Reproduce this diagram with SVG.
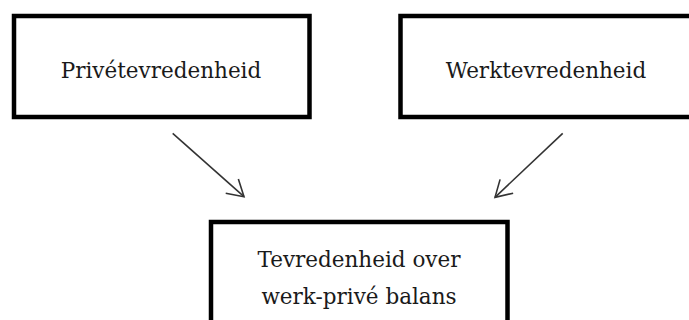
<svg xmlns="http://www.w3.org/2000/svg" width="689" height="320" viewBox="0 0 689 320">
  <style>
    .box { fill: #ffffff; stroke: #000000; stroke-width: 4.5; }
    .label { font-family: "DejaVu Serif", "Liberation Serif", serif; font-size: 21.5px; fill: #1a1a1a; text-anchor: middle; }
    .link { stroke: #333333; stroke-width: 1.6; fill: none; }
  </style>
  <defs>
    <marker id="openArrow" markerUnits="userSpaceOnUse" markerWidth="24" markerHeight="24" refX="0" refY="0" viewBox="-20 -12 24 24" orient="auto" overflow="visible">
      <path d="M-16,-9.5 L0,0 L-16,9.5" fill="none" stroke="#333333" stroke-width="1.6" stroke-linejoin="miter"/>
    </marker>
  </defs>
  <rect width="689" height="320" fill="#ffffff"/>

  <g id="prive">
    <rect class="box" x="14" y="16" width="295.5" height="101"/>
    <text class="label" x="161" y="78">Privétevredenheid</text>
  </g>

  <g id="werk">
    <rect class="box" x="400.5" y="16" width="291" height="101"/>
    <text class="label" x="546" y="78">Werktevredenheid</text>
  </g>

  <g id="balans">
    <rect class="box" x="211" y="222" width="296.5" height="110"/>
    <text class="label" x="359" y="267">Tevredenheid over</text>
    <text class="label" x="359" y="303.5">werk-privé balans</text>
  </g>

  <g id="connectors">
    <line class="link" x1="172.7" y1="133.3" x2="244" y2="196.7" marker-end="url(#openArrow)"/>
    <line class="link" x1="562.7" y1="133.3" x2="495" y2="197.3" marker-end="url(#openArrow)"/>
  </g>
</svg>
